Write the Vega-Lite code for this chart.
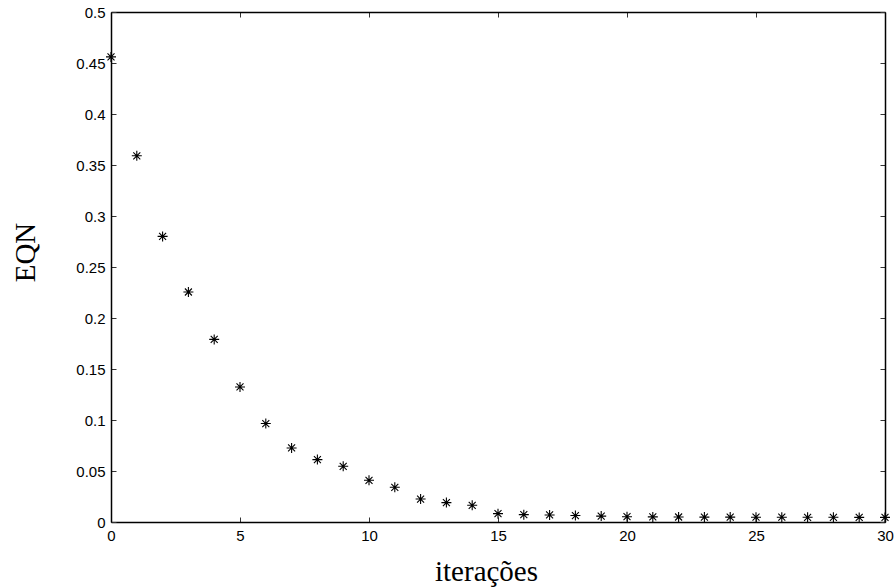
{
  "$schema": "https://vega.github.io/schema/vega-lite/v6.json",
  "autosize": {"type": "none"},
  "width": 774,
  "height": 510,
  "padding": {"left": 111, "top": 12, "right": 11, "bottom": 66},
  "background": "white",
  "data": {
    "values": [
      {"iter": 0, "eqn": 0.456},
      {"iter": 1, "eqn": 0.359},
      {"iter": 2, "eqn": 0.280},
      {"iter": 3, "eqn": 0.2255},
      {"iter": 4, "eqn": 0.179},
      {"iter": 5, "eqn": 0.1324},
      {"iter": 6, "eqn": 0.0965},
      {"iter": 7, "eqn": 0.0726},
      {"iter": 8, "eqn": 0.0612},
      {"iter": 9, "eqn": 0.0546},
      {"iter": 10, "eqn": 0.0409},
      {"iter": 11, "eqn": 0.034},
      {"iter": 12, "eqn": 0.0225},
      {"iter": 13, "eqn": 0.019},
      {"iter": 14, "eqn": 0.0164},
      {"iter": 15, "eqn": 0.0082},
      {"iter": 16, "eqn": 0.0072},
      {"iter": 17, "eqn": 0.0069},
      {"iter": 18, "eqn": 0.0063},
      {"iter": 19, "eqn": 0.0058},
      {"iter": 20, "eqn": 0.0052},
      {"iter": 21, "eqn": 0.0050},
      {"iter": 22, "eqn": 0.0049},
      {"iter": 23, "eqn": 0.0048},
      {"iter": 24, "eqn": 0.0048},
      {"iter": 25, "eqn": 0.0047},
      {"iter": 26, "eqn": 0.0047},
      {"iter": 27, "eqn": 0.0046},
      {"iter": 28, "eqn": 0.0046},
      {"iter": 29, "eqn": 0.0045},
      {"iter": 30, "eqn": 0.0045}
    ]
  },
  "layer": [
    {
      "mark": {
        "type": "point",
        "shape": "M-1,0L1,0M0,-1L0,1M-0.7,-0.7L0.7,0.7M-0.7,0.7L0.7,-0.7",
        "filled": false,
        "stroke": "black",
        "strokeWidth": 1.1,
        "size": 100,
        "opacity": 1
      },
      "encoding": {
        "x": {
          "field": "iter",
          "type": "quantitative",
          "scale": {"domain": [0, 30], "nice": false, "zero": false},
          "axis": {
            "orient": "bottom",
            "values": [0, 5, 10, 15, 20, 25, 30],
            "format": "d",
            "labelFlush": false,
            "title": "iterações",
            "titleX": 375,
            "titleY": 49,
            "titleBaseline": "middle",
            "labelPadding": 11
          }
        },
        "y": {
          "field": "eqn",
          "type": "quantitative",
          "scale": {"domain": [0, 0.5], "nice": false, "zero": false},
          "axis": {
            "orient": "left",
            "values": [0, 0.05, 0.1, 0.15, 0.2, 0.25, 0.3, 0.35, 0.4, 0.45, 0.5],
            "format": ".2~f",
            "labelFlush": false,
            "title": "EQN",
            "titleX": -86,
            "titleY": 240,
            "titleAngle": -90,
            "titleBaseline": "middle",
            "labelPadding": 11
          }
        }
      }
    },
    {
      "mark": {"type": "point", "opacity": 0},
      "encoding": {
        "x": {
          "field": "iter",
          "type": "quantitative",
          "scale": {"domain": [0, 30], "nice": false, "zero": false},
          "axis": {
            "orient": "top",
            "values": [0, 5, 10, 15, 20, 25, 30],
            "labels": false,
            "title": null
          }
        },
        "y": {
          "field": "eqn",
          "type": "quantitative",
          "scale": {"domain": [0, 0.5], "nice": false, "zero": false},
          "axis": {
            "orient": "right",
            "values": [0, 0.05, 0.1, 0.15, 0.2, 0.25, 0.3, 0.35, 0.4, 0.45, 0.5],
            "labels": false,
            "title": null
          }
        }
      }
    }
  ],
  "resolve": {"scale": {"x": "independent", "y": "independent"}},
  "config": {
    "view": {"stroke": null},
    "axis": {
      "grid": false,
      "domainColor": "black",
      "domainWidth": 1.5,
      "tickColor": "#333333",
      "tickSize": -5,
      "tickWidth": 1,
      "labelFont": "Liberation Sans",
      "labelFontSize": 15,
      "labelColor": "black",
      "titleFont": "Liberation Serif",
      "titleFontSize": 29,
      "titleFontWeight": "normal",
      "titleColor": "black"
    }
  }
}
